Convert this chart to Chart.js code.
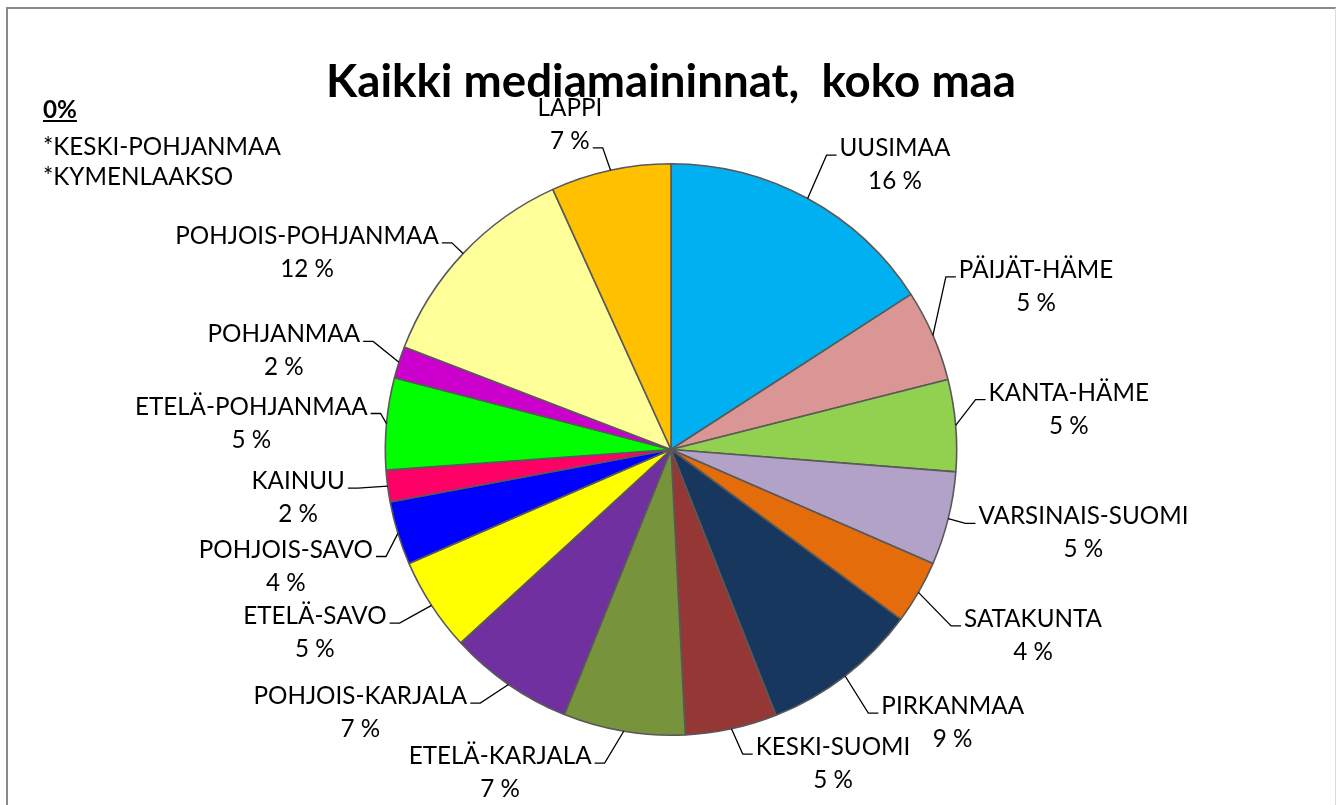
<!DOCTYPE html>
<html><head><meta charset="utf-8">
<script src="https://cdn.jsdelivr.net/npm/chart.js@4"></script>
<style>
html,body{margin:0;padding:0;background:#fff;overflow:hidden}
#wrap{position:relative;width:1336px;height:805px;overflow:hidden}
#frame{position:absolute;left:6px;top:7px;width:1330px;height:900px;border-left:2px solid #8a8a8a;border-top:2px solid #8a8a8a;border-right:1px solid #dcdcdc;box-sizing:border-box}
canvas{position:absolute;left:0;top:0}
.note{position:absolute;left:43px;font-family:Lato,sans-serif;color:#000;white-space:nowrap;line-height:1.2}
</style></head>
<body>
<div id="wrap"><div id="frame"></div><canvas id="c" width="1336" height="805"></canvas></div>
<script>
const titleText = 'Kaikki mediamaininnat,  koko maa';
const categories = ['UUSIMAA','PÄIJÄT-HÄME','KANTA-HÄME','VARSINAIS-SUOMI','SATAKUNTA','PIRKANMAA','KESKI-SUOMI','ETELÄ-KARJALA','POHJOIS-KARJALA','ETELÄ-SAVO','POHJOIS-SAVO','KAINUU','ETELÄ-POHJANMAA','POHJANMAA','POHJOIS-POHJANMAA','LAPPI'];
const values = [15.9,5.2,5.2,5.3,3.6,8.9,5.2,6.9,7.1,5.3,3.6,1.8,5.2,1.8,12.4,6.8];
const colors = ['#00B0F0','#D99694','#92D050','#B3A2C7','#E46C0A','#17375E','#953735','#77933C','#7030A0','#FFFF00','#0000FF','#FF0066','#00FF00','#CC00CC','#FFFF99','#FFC000'];
const zeroHeading = '0%';
const zeroCategories = ['KESKI-POHJANMAA','KYMENLAAKSO'];
// label layout tweaks (offsets from the automatic outside position)
const labelNudges = [[20,10],[3,-29],[8,-12],[6,2],[24,18],[21,7],[19,-14],[-28,-8],[-27,-13],[-24,0],[-1,18],[-18,5],[6,4],[-15,4],[-6,33],[-3,3]];

const mc = document.createElement('canvas').getContext('2d');
mc.font = 'bold 40px Lato';
const titleSize = 40*690/mc.measureText(titleText).width;
mc.font = '20px Lato';
const labelSize = 20*210/mc.measureText('VARSINAIS-SUOMI').width;
const LINE = 33, GAP = 25, BH = 50;

const wrap = document.getElementById('wrap');
const noteLines = [{t:zeroHeading,b:true,base:118}].concat(zeroCategories.map((c,i)=>({t:'*'+c,b:false,base:155+i*30})));
noteLines.forEach(l=>{
  const d = document.createElement('div');
  d.className='note';
  d.style.fontSize = labelSize+'px';
  d.style.top = (l.base - 0.987*labelSize)+'px';
  if(l.b){const u=document.createElement('u');const b=document.createElement('b');b.textContent=l.t;u.appendChild(b);d.appendChild(u);} else d.textContent=l.t;
  wrap.appendChild(d);
});

const tP = 100 - titleSize*(0.5+0.387);
const tB = 163 - tP - titleSize;

const leaderLabels = {
  id:'leaderLabels',
  afterDatasetsDraw(chart){
    const ctx = chart.ctx;
    const meta = chart.getDatasetMeta(0);
    const total = values.reduce((a,b)=>a+b,0);
    ctx.save();
    ctx.font = labelSize+'px Lato';
    ctx.fillStyle = '#000';
    ctx.strokeStyle = '#000';
    ctx.lineWidth = 1.3;
    ctx.textAlign = 'center';
    ctx.textBaseline = 'alphabetic';
    meta.data.forEach((arc,i)=>{
      const p = arc.getProps(['x','y','outerRadius','startAngle','endAngle'], true);
      const mid = (p.startAngle+p.endAngle)/2;
      const dx = Math.cos(mid), dy = Math.sin(mid);
      const R = p.outerRadius;
      const name = categories[i];
      const pct = Math.round(values[i]/total*100)+' %';
      const wN = ctx.measureText(name).width, wP = ctx.measureText(pct).width;
      const w = Math.max(wN,wP);
      const sgn = dx>0?1:-1;
      const ax = p.x + dx*(R+GAP), ay = p.y + dy*(R+GAP);
      const bcx = ax + sgn*w/2 + labelNudges[i][0];
      const bcy = ay + dy*BH/2 + labelNudges[i][1];
      const blN = bcy - 8.5, blP = blN + LINE;
      ctx.fillText(name, bcx, blN);
      ctx.fillText(pct, bcx, blP);
      const px = p.x + dx*R, py = p.y + dy*R;
      const cands = [[bcx - sgn*(wN/2+3), blN-1],[bcx - sgn*(wP/2+3), blP-1]];
      let best = cands[0];
      if (Math.hypot(cands[1][0]-px,cands[1][1]-py) < Math.hypot(cands[0][0]-px,cands[0][1]-py)) best = cands[1];
      const sx = best[0] - sgn*10;
      ctx.beginPath();
      ctx.moveTo(px,py);
      ctx.lineTo(sx,best[1]);
      ctx.lineTo(best[0],best[1]);
      ctx.stroke();
    });
    ctx.restore();
  }
};

new Chart(document.getElementById('c'), {
  type:'pie',
  data:{labels:categories, datasets:[{data:values, backgroundColor:colors, borderColor:'#595959', borderWidth:1.6}]},
  options:{
    responsive:false, animation:false, devicePixelRatio:1,
    layout:{padding:{top:0,bottom:69,left:6,right:0}},
    plugins:{
      legend:{display:false}, tooltip:{enabled:false},
      title:{display:true, text:titleText, color:'#000', font:{family:'Lato', weight:'bold', size:titleSize, lineHeight:1}, padding:{top:tP,bottom:tB}}
    }
  },
  plugins:[leaderLabels]
});
</script>
</body></html>
